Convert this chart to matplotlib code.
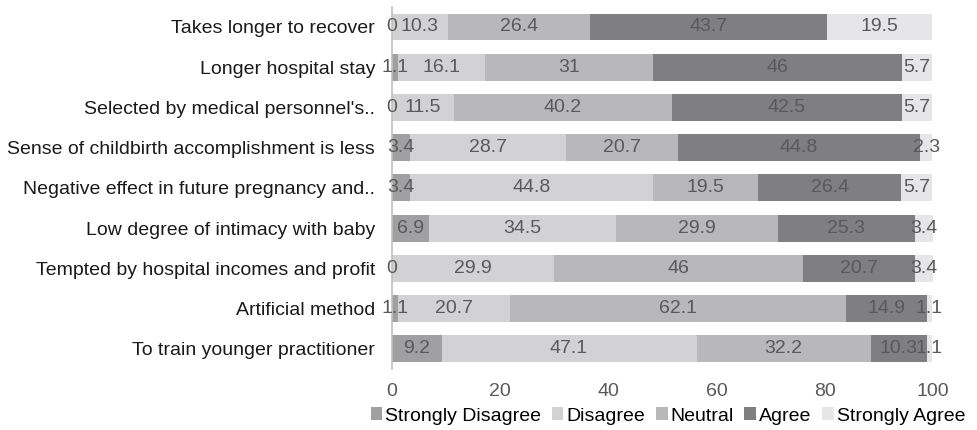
import matplotlib
matplotlib.use("Agg")
import matplotlib.pyplot as plt
import numpy as np

plt.rcParams['font.family'] = ['Liberation Sans', 'DejaVu Sans']

labels = ["Takes longer to recover", "Longer hospital stay",
          "Selected by medical personnel's..",
          "Sense of childbirth accomplishment is less",
          "Negative effect in future pregnancy and..",
          "Low degree of intimacy with baby",
          "Tempted by hospital incomes and profit",
          "Artificial method", "To train younger practitioner"]
categories = ["Strongly Disagree", "Disagree", "Neutral", "Agree", "Strongly Agree"]
strongly_disagree = [0, 1.1, 0, 3.4, 3.4, 6.9, 0, 1.1, 9.2]
disagree = [10.3, 16.1, 11.5, 28.7, 44.8, 34.5, 29.9, 20.7, 47.1]
neutral = [26.4, 31, 40.2, 20.7, 19.5, 29.9, 46, 62.1, 32.2]
agree = [43.7, 46, 42.5, 44.8, 26.4, 25.3, 20.7, 14.9, 10.3]
strongly_agree = [19.5, 5.7, 5.7, 2.3, 5.7, 3.4, 3.4, 1.1, 1.1]
colors = ["#a0a0a2", "#d2d2d4", "#b8b8bb", "#7f7f82", "#e6e6e8"]

series = [strongly_disagree, disagree, neutral, agree, strongly_agree]

fig = plt.figure(figsize=(9.77, 4.30), dpi=100)
ax = fig.add_axes([0.401, 0.142, 0.554, 0.842])

y = np.arange(len(labels))
left = np.zeros(len(labels))
for name, vals, c in zip(categories, series, colors):
    vals = np.array(vals, dtype=float)
    ax.barh(y, vals, left=left, height=0.67, color=c, label=name)
    for yi, (l, v) in enumerate(zip(left, vals)):
        txt = f"{v:g}"
        ax.text(l + v / 2, yi, txt, ha="center", va="center",
                fontsize=14, color="#595959")
    left += vals

ax.set_xlim(0, 100)
ax.set_ylim(len(labels) - 0.5, -0.5)
ax.set_yticks(y)
ax.set_yticklabels(labels, fontsize=14, color="#1a1a1a")
ax.set_xticks([0, 20, 40, 60, 80, 100])
ax.tick_params(axis="both", length=0)
ax.tick_params(axis="x", labelsize=14, labelcolor="#595959", pad=10)
ax.tick_params(axis="y", pad=12)
for s in ["top", "right", "bottom"]:
    ax.spines[s].set_visible(False)
ax.spines["left"].set_color("#bfbfbf")
ax.spines["left"].set_linewidth(1.2)

ax.legend(loc="upper center", bbox_to_anchor=(0.51, -0.085), ncol=5,
          frameon=False, fontsize=14, handlelength=0.6, handleheight=0.6,
          handletextpad=0.15, columnspacing=0.55, borderaxespad=0)

fig.savefig("out.png", dpi=100)
